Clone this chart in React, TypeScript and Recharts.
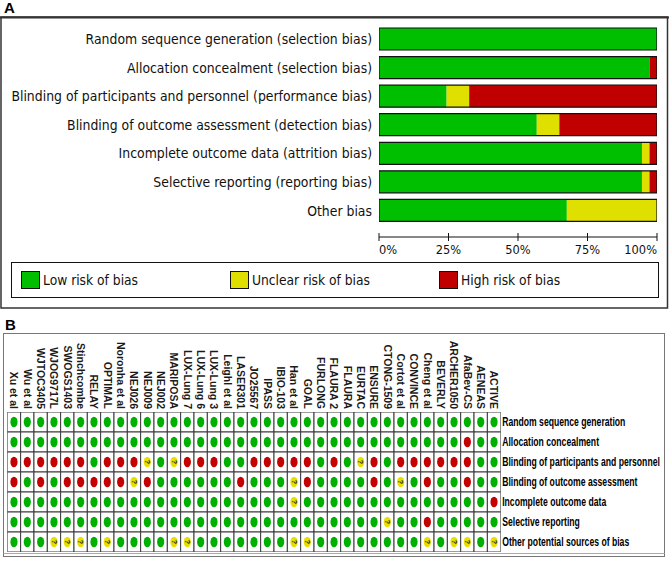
import { BarChart, Bar, XAxis, YAxis, ScatterChart, Scatter } from 'recharts'

// ── Study list and judgements (L = low, U = unclear, H = high) ─────────────
const studies = [
  'Xu et al', 'Wu et al', 'WJTOC3405', 'WJOG9717L', 'SWOGS1403', 'Stinchcombe', 'RELAY',
  'OPTIMAL', 'Noronha et al', 'NEJ026', 'NEJ009', 'NEJ002', 'MARIPOSA', 'LUX-Lung 7',
  'LUX-Lung 6', 'LUX-Lung 3', 'Leighl et al', 'LASER301', 'JO25567', 'IPASS', 'IBIO-103',
  'Han et al', 'GOAL', 'FURLONG', 'FLAURA 2', 'FLAURA', 'EURTAC', 'ENSURE', 'CTONG-1509',
  'Cortot et al', 'CONVINCE', 'Cheng et al', 'BEVERLY', 'ARCHER1050', 'AfaBev-CS', 'AENEAS',
  'ACTIVE',
]

const domainsLong = [
  'Random sequence generation (selection bias)',
  'Allocation concealment (selection bias)',
  'Blinding of participants and personnel (performance bias)',
  'Blinding of outcome assessment (detection bias)',
  'Incomplete outcome data (attrition bias)',
  'Selective reporting (reporting bias)',
  'Other bias',
]

const domainsShort = [
  'Random sequence generation',
  'Allocation concealment',
  'Blinding of participants and personnel',
  'Blinding of outcome assessment',
  'Incomplete outcome data',
  'Selective reporting',
  'Other potential sources of bias',
]

const randomSequence       = 'LLLLLLLLLLLLLLLLLLLLLLLLLLLLLLLLLLLLL'
const allocation           = 'LLLLLLLLLLLLLLLLLLLLLLLLLLLLLLLLLLHLL'
const blindingParticipants = 'HHHHHHLHHHULUHHHLLHHHHHLHLUHLHHHHHHLL'
const blindingOutcome      = 'HLHLHHHHHUHLLLLLLHLLLUHLLLLHLULHLLHLL'
const incompleteData       = 'LLLLLLLLLLLLLLLLLLLLLULLLLLLLLLLLLLLH'
const selectiveReporting   = 'LLLLLLLLLLLLLLLLLLLLLLLLLLLLULLHLLLLL'
const otherBias            = 'LLLUUULULLLLUULLLLLLLUULLLLLLLLULUULU'

const judgements = [
  randomSequence, allocation, blindingParticipants, blindingOutcome,
  incompleteData, selectiveReporting, otherBias,
]

const pctTicks = [0, 25, 50, 75, 100]

const BAR_COLORS = { L: '#00bf00', U: '#e0e000', H: '#c00000' }
const DOT_COLORS = { L: '#00b000', U: '#e6e000', H: '#c40000' }

// percentage of studies per judgement, per domain
const summary = domainsLong.map((name, i) => {
  const row = judgements[i].split('')
  const pct = (c: string) => (row.filter((j) => j === c).length / row.length) * 100
  return { name, low: pct('L'), unclear: pct('U'), high: pct('H'), frame: 100 }
})

const cells = judgements.flatMap((row, r) =>
  row.split('').map((j, c) => ({ x: c + 0.5, y: r + 0.5, j }))
)

const FONT_A = '"DejaVu Sans", sans-serif'
const FONT_B = '"Liberation Sans", Arial, sans-serif'

// summary grid plot box
const GRID_W = 493.4
const GRID_H = 140
const CELL_W = GRID_W / studies.length
const CELL_H = GRID_H / domainsShort.length

// ── Panel A ticks ─────────────────────────────────────────────────────────
function DomainLabel({ x, y, payload }: any) {
  return (
    <text
      transform={`translate(${x},${y}) scale(0.89,1)`}
      textAnchor="end"
      dy="0.35em"
      fontFamily={FONT_A}
      fontSize={14}
      fill="#111"
    >
      {payload.value}
    </text>
  )
}

function PctTick({ x, y, payload, index }: any) {
  const anchor = index === 0 ? 'start' : index === pctTicks.length - 1 ? 'end' : 'middle'
  return (
    <g>
      <line x1={x} x2={x} y1={y - 4} y2={y + 4} stroke="#111" />
      <text
        transform={`translate(${x},${y + 12}) scale(0.88,1)`}
        textAnchor={anchor}
        dy="0.35em"
        fontFamily={FONT_A}
        fontSize={13}
        fill="#111"
      >
        {`${payload.value}%`}
      </text>
    </g>
  )
}

// ── Panel B ticks and cells ───────────────────────────────────────────────
function StudyTick({ x, y, payload }: any) {
  return (
    <text
      transform={`translate(${x},${y}) rotate(90)`}
      textAnchor="end"
      dy="0.35em"
      fontFamily={FONT_B}
      fontWeight="bold"
      fontSize={10.5}
      fill="#1a1a1a"
    >
      {studies[Math.floor(payload.value)]}
    </text>
  )
}

function RowTick({ x, y, payload }: any) {
  return (
    <text
      transform={`translate(${x},${y}) scale(0.72,1)`}
      textAnchor="start"
      dy="0.35em"
      fontFamily={FONT_B}
      fontWeight="bold"
      fontSize={12}
      fill="#000"
    >
      {domainsShort[Math.floor(payload.value)]}
    </text>
  )
}

// one cell of the summary: bordered box with the judgement dot
function RiskCell({ cx, cy, payload }: any) {
  const j = payload.j as 'L' | 'U' | 'H'
  return (
    <g>
      <rect
        x={cx - CELL_W / 2}
        y={cy - CELL_H / 2}
        width={CELL_W}
        height={CELL_H}
        fill="#fff"
        stroke="#3a3a3a"
        strokeWidth={1}
      />
      <ellipse cx={cx} cy={cy} rx={3.6} ry={5.2} fill={DOT_COLORS[j]} />
      {j === 'U' && (
        <text
          transform={`translate(${cx},${cy}) rotate(90)`}
          textAnchor="middle"
          dy="0.35em"
          fontFamily={FONT_B}
          fontWeight="bold"
          fontSize={7}
          fill="#222"
        >
          ?
        </text>
      )}
    </g>
  )
}

const legendItems = [
  { label: 'Low risk of bias', color: BAR_COLORS.L, x: 21 },
  { label: 'Unclear risk of bias', color: BAR_COLORS.U, x: 230 },
  { label: 'High risk of bias', color: BAR_COLORS.H, x: 439 },
]

export default function App() {
  return (
    <div style={{ position: 'absolute', left: 0, top: 0, width: 669, height: 564, background: '#fff' }}>
      {/* frames, panel letters and legend */}
      <svg width={669} height={564} style={{ position: 'absolute', left: 0, top: 0 }}>
        <text x={4} y={13} fontFamily={FONT_B} fontWeight="bold" fontSize={15} fill="#000">A</text>
        <rect x={1} y={17} width={666.5} height={291} fill="none" stroke="#333" strokeWidth={1.5} />
        <line x1={0} x2={669} y1={17.5} y2={17.5} stroke="#333" strokeWidth={2} />
        <rect x={11.5} y={262.5} width={647} height={35} fill="none" stroke="#111" />
        {legendItems.map((it) => (
          <g key={it.label}>
            <rect x={it.x + 0.5} y={271.5} width={18} height={17} fill={it.color} stroke="#111" />
            <text
              transform={`translate(${it.x + 22},280) scale(0.88,1)`}
              dy="0.35em"
              fontFamily={FONT_A}
              fontSize={14}
              fill="#111"
            >
              {it.label}
            </text>
          </g>
        ))}

        <text x={5} y={330} fontFamily={FONT_B} fontWeight="bold" fontSize={15} fill="#000">B</text>
        <rect x={3.5} y={333.5} width={661} height={223} fill="#fff" stroke="#777" />
        <line x1={3.5} x2={664.5} y1={553.5} y2={553.5} stroke="#aaa" />
      </svg>

      {/* Panel A: risk of bias graph */}
      <div style={{ position: 'absolute', left: 0, top: 0 }}>
        <BarChart
          width={669}
          height={265}
          data={summary}
          layout="vertical"
          margin={{ top: 25, right: 12, bottom: 4, left: 9 }}
          barSize={22}
          barGap={-22}
        >
          <XAxis
            type="number"
            domain={[0, 100]}
            allowDataOverflow
            ticks={pctTicks}
            interval={0}
            height={24}
            axisLine={{ stroke: '#111' }}
            tickLine={false}
            tickSize={0}
            tickMargin={0}
            tick={PctTick}
          />
          <YAxis
            type="category"
            dataKey="name"
            width={370}
            padding={{ top: 0, bottom: 12 }}
            interval={0}
            axisLine={false}
            tickLine={false}
            tickSize={0}
            tickMargin={7}
            tick={DomainLabel}
          />
          <Bar dataKey="low" stackId="risk" fill={BAR_COLORS.L} isAnimationActive={false} />
          <Bar dataKey="unclear" stackId="risk" fill={BAR_COLORS.U} isAnimationActive={false} />
          <Bar dataKey="high" stackId="risk" fill={BAR_COLORS.H} isAnimationActive={false} />
          <Bar dataKey="frame" fill="none" stroke="#111" strokeWidth={1.2} isAnimationActive={false} />
        </BarChart>
      </div>

      {/* Panel B: risk of bias summary */}
      <div style={{ position: 'absolute', left: 0, top: 330 }}>
        <ScatterChart width={669} height={230} margin={{ top: 10, right: 8.3, bottom: 8, left: 7.3 }}>
          <XAxis
            dataKey="x"
            orientation="top"
            type="number"
            domain={[0, studies.length]}
            allowDataOverflow
            ticks={studies.map((_, i) => i + 0.5)}
            interval={0}
            height={72}
            axisLine={false}
            tickLine={false}
            tickSize={0}
            tickMargin={3}
            tick={StudyTick}
          />
          <YAxis
            dataKey="y"
            orientation="right"
            type="number"
            domain={[0, domainsShort.length]}
            allowDataOverflow
            reversed
            ticks={domainsShort.map((_, i) => i + 0.5)}
            interval={0}
            width={160}
            axisLine={false}
            tickLine={false}
            tickSize={0}
            tickMargin={1.5}
            tick={RowTick}
          />
          <Scatter data={cells} shape={RiskCell} isAnimationActive={false} />
        </ScatterChart>
      </div>
    </div>
  )
}
